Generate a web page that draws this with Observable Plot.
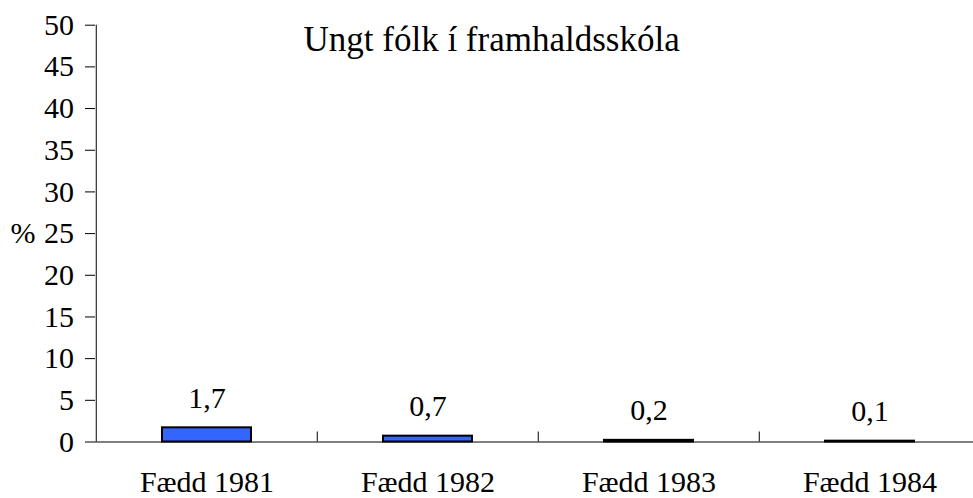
<!DOCTYPE html>
<html><head><meta charset="utf-8">
<script src="https://cdn.jsdelivr.net/npm/d3@7"></script>
<script src="https://cdn.jsdelivr.net/npm/@observablehq/plot@0.6"></script>
<style>html,body{margin:0;padding:0;background:#fff;overflow:hidden}</style>
</head><body><div id="chart"></div>
<script>
const categories = ["Fædd 1981", "Fædd 1982", "Fædd 1983", "Fædd 1984"];
const values = [1.7, 0.7, 0.2, 0.1];
const yTicks = [0, 5, 10, 15, 20, 25, 30, 35, 40, 45, 50];
const title = "Ungt fólk í framhaldsskóla";
const yLabel = "%";
const yLabelAt = 25;

const data = categories.map((c, i) => ({category: c, value: values[i]}));
const xRange = [95, 981];
const bw = (xRange[1] - xRange[0]) / categories.length;

const chart = Plot.plot({
  width: 973, height: 498,
  marginLeft: 95, marginRight: 0, marginTop: 24.7, marginBottom: 56.5,
  style: {fontFamily: "'Liberation Serif', 'Times New Roman', serif", fontSize: "30px", background: "#fff", color: "#000", overflow: "visible"},
  x: {type: "band", domain: categories, range: xRange, padding: 0},
  y: {domain: [0, 50]},
  marks: [
    Plot.ruleY([0], {stroke: "#000", strokeWidth: 1}),
    Plot.ruleX(categories.slice(0, 1), {x: d => d, y1: 0, y2: 50, dx: -bw / 2, stroke: "#000"}),
    Plot.ruleX(categories.slice(1), {x: d => d, y1: 0, y2: 0, insetTop: -10, dx: -bw / 2, stroke: "#000"}),
    Plot.barY(data, {x: "category", y: "value", fill: "#3366ff", stroke: "#000", strokeWidth: 2, insetLeft: 66, insetRight: 66}),
    Plot.axisY({ticks: yTicks, tickSize: 10, tickPadding: 11.6, tickFormat: d => String(d), label: null, fontSize: 30}),
    Plot.axisX({tickSize: 0, tickPadding: 28.5, label: null, fontSize: 30}),
    Plot.text(data, {x: "category", y: "value", text: d => d.value.toFixed(1).replace(".", ","), lineAnchor: "bottom", dy: -20, fontSize: 30}),
    Plot.text([yLabel], {y: () => yLabelAt, text: d => d, frameAnchor: "left", dx: -85, textAnchor: "start", fontSize: 30}),
    Plot.text([title], {text: d => d, frameAnchor: "top-left", dx: 208, dy: 0.5, lineAnchor: "top", textAnchor: "start", fontSize: 35})
  ]
});
document.getElementById("chart").appendChild(chart);
</script>
</body></html>
